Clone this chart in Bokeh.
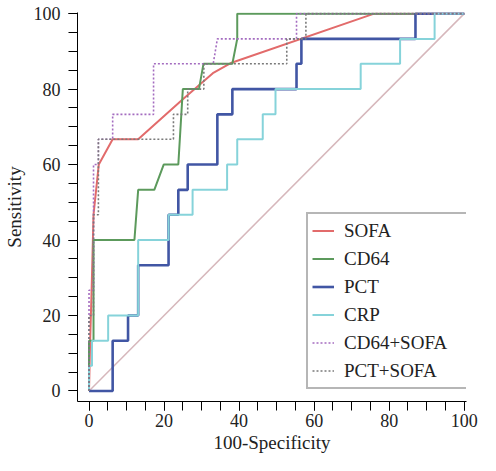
from bokeh.plotting import figure
from bokeh.models import FixedTicker, Range1d
from bokeh.embed import file_html
from bokeh.resources import INLINE

# ---- data ----
diag = [0, 100]

sofa_x = [0, 0.3, 0.7, 1.2, 2.6, 6.3, 13.1, 25, 33, 38, 76, 100]
sofa_y = [0, 13.3, 27, 46.7, 60, 66.7, 66.7, 77.3, 84.2, 87, 100, 100]

cd64_x = [0, 0, 1.2, 1.2, 12.1, 13.1, 17.4, 19.9, 23.8, 25, 29.3, 30.5, 38.2, 39.5, 39.5, 100]
cd64_y = [0, 13.3, 13.3, 40, 40, 53.3, 53.3, 60, 60, 80, 80, 86.7, 86.7, 93.3, 100, 100]

pct_x = [0, 6.3, 6.3, 10.4, 10.4, 13.1, 13.1, 21.2, 21.2, 23.8, 23.8, 26.3, 26.3,
         34.2, 34.2, 38.2, 38.2, 55.3, 55.3, 56.6, 56.6, 87, 87, 100]
pct_y = [0, 0, 13.3, 13.3, 20, 20, 33.3, 33.3, 46.7, 46.7, 53.3, 53.3, 60,
         60, 73.3, 73.3, 80, 80, 86.7, 86.7, 93.3, 93.3, 100, 100]

crp_x = [0, 0, 0.8, 0.8, 5.1, 5.1, 13.1, 13.1, 21.2, 21.2, 27.6, 27.6, 36.8, 36.8,
         39.5, 39.5, 46.3, 46.3, 49.7, 49.7, 72.4, 72.4, 82.9, 82.9, 92.1, 92.1, 100]
crp_y = [0, 6.7, 6.7, 13.3, 13.3, 20, 20, 40, 40, 46.7, 46.7, 53.3, 53.3, 60,
         60, 66.7, 66.7, 73.3, 73.3, 80, 80, 86.7, 86.7, 93.3, 93.3, 100, 100]

cd64sofa_x = [0, 0, 1.2, 1.2, 2.5, 2.5, 6.3, 6.3, 17.2, 17.2, 33.1, 34.2, 55.3, 55.3, 100]
cd64sofa_y = [0, 26.7, 26.7, 60, 60, 66.7, 66.7, 73.3, 73.3, 86.7, 86.7, 93.3, 93.3, 100, 100]

pctsofa_x = [0, 0, 1.2, 1.2, 2.5, 2.5, 22.5, 22.5, 26.3, 26.3, 30.6, 30.6, 52.7, 52.7, 57.8, 57.8, 100]
pctsofa_y = [0, 20, 20, 46.7, 46.7, 66.7, 66.7, 73.3, 73.3, 80, 80, 86.7, 86.7, 93.3, 93.3, 100, 100]

major_ticks = [0, 20, 40, 60, 80, 100]
minor_ticks = [0, 5, 10, 15, 20, 25, 30, 35, 40, 45, 50, 55, 60, 65, 70, 75, 80, 85, 90, 95, 100]

FONT = "Liberation Serif"

p = figure(width=480, height=455, output_backend="svg", toolbar_location=None,
           x_range=Range1d(-3.07, 100.6), y_range=Range1d(-2.8, 100.3),
           min_border_left=72, min_border_right=14, min_border_top=12, min_border_bottom=50)
p.outline_line_color = None
p.grid.visible = False
p.background_fill_color = "white"

p.line(diag, diag, line_color="#d6b7bb", line_width=1.5)
p.line(sofa_x, sofa_y, line_color="#e26b6b", line_width=2, legend_label="SOFA")
p.line(cd64_x, cd64_y, line_color="#5c9a5c", line_width=2, legend_label="CD64")
p.line(pct_x, pct_y, line_color="#4156a4", line_width=2.6, legend_label="PCT")
p.line(crp_x, crp_y, line_color="#86d3da", line_width=2, legend_label="CRP")
p.line(cd64sofa_x, cd64sofa_y, line_color="#a46cc0", line_width=1.6, line_dash="2 2",
       legend_label="CD64+SOFA")
p.line(pctsofa_x, pctsofa_y, line_color="#7a7a7a", line_width=1.6, line_dash="2 2",
       legend_label="PCT+SOFA")

for ax in (p.xaxis[0], p.yaxis[0]):
    ax.ticker = FixedTicker(ticks=major_ticks, minor_ticks=minor_ticks)
    ax.major_tick_in = 0
    ax.major_tick_out = 9
    ax.minor_tick_in = 0
    ax.minor_tick_out = 9
    ax.axis_line_color = "black"
    ax.major_tick_line_color = "black"
    ax.minor_tick_line_color = "black"
    ax.major_label_text_font = FONT
    ax.major_label_text_font_size = "18px"
    ax.major_label_text_color = "#222222"
    ax.axis_label_text_font = FONT
    ax.axis_label_text_font_size = "19px"
    ax.axis_label_text_font_style = "normal"
    ax.axis_label_text_color = "#222222"

p.xaxis.axis_label = "100-Specificity"
p.yaxis.axis_label = "Sensitivity"
p.xaxis.major_label_standoff = 3
p.xaxis.axis_label_standoff = 2
p.yaxis.major_label_standoff = 8
p.yaxis.axis_label_standoff = 6

lg = p.legend[0]
lg.location = (229, 12)
lg.border_line_color = "#6e6e6e"
lg.border_line_width = 2
lg.background_fill_color = "white"
lg.background_fill_alpha = 1
lg.label_text_font = FONT
lg.label_text_font_size = "19px"
lg.label_text_color = "#222222"
lg.glyph_width = 22
lg.glyph_height = 25
lg.label_height = 25
lg.label_width = 128
lg.label_standoff = 10
lg.spacing = 3
lg.padding = 4
lg.margin = 0

open("out.html", "w").write(file_html(p, INLINE))
